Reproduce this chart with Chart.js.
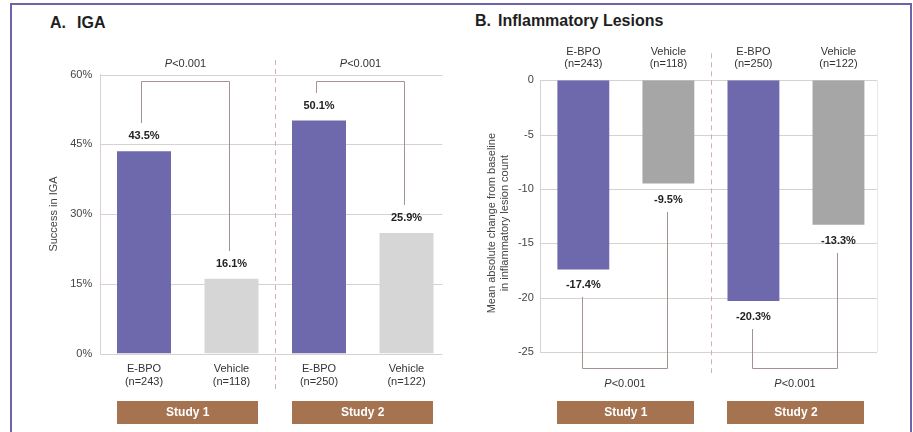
<!DOCTYPE html>
<html>
<head>
<meta charset="utf-8">
<script src="https://cdn.jsdelivr.net/npm/chart.js@4.4.1/dist/chart.umd.min.js"></script>
<style>
  html, body { margin: 0; padding: 0; background: #fff; }
  #page { position: relative; width: 913px; height: 432px; overflow: hidden;
          font-family: "Liberation Sans", Arial, sans-serif; }
  #frame { position: absolute; left: 10px; top: 3px; width: 898px; height: 470px;
           border: 2px solid #6b64ad; pointer-events: none; }
  .title { position: absolute; font-weight: bold; font-size: 16px; line-height: 16px;
           color: #1e1e1e; white-space: nowrap; }
  .title .tag { display: inline-block; }
  canvas { position: absolute; top: 0; }
</style>
</head>
<body>
<div id="page">
  <div class="title" style="left:50px;top:15px"><span class="tag" style="width:27px">A.</span>IGA</div>
  <div class="title" style="left:475px;top:13px"><span class="tag" style="width:23px">B.</span>Inflammatory Lesions</div>
  <canvas id="iga" width="460" height="432" style="left:0"></canvas>
  <canvas id="lesions" width="450" height="432" style="left:460px"></canvas>
  <div id="frame"></div>
</div>
<script>
// ---- data ----
const CATEGORIES = ['E-BPO', 'Vehicle', 'E-BPO', 'Vehicle'];
const IGA_N = ['(n=243)', '(n=118)', '(n=250)', '(n=122)'];
const IGA_SUCCESS = [43.5, 16.1, 50.1, 25.9];
const LESION_N = ['(n=243)', '(n=118)', '(n=250)', '(n=122)'];
const LESION_CHANGE = [-17.4, -9.5, -20.3, -13.3];
const STUDIES = ['Study 1', 'Study 2'];
const P_VALUES = ['<0.001', '<0.001'];
const IGA_TICKS = [0, 15, 30, 45, 60];
const LESION_TICKS = [0, -5, -10, -15, -20, -25];
const IGA_TITLE = ['Success in IGA'];
const LESION_TITLE = ['Mean absolute change from baseline', 'in inflammatory lesion count'];

// ---- styling ----
const FONT = '"Liberation Sans", Arial, sans-serif';
const PURPLE = '#6e68ad';
const GRID = '#dad1cf';
const BRACKET = '#a39390';
const SEPARATOR = '#cfb3ae';
const BROWN = '#a67350';
const TEXT = '#3c3c3c';

Chart.defaults.font.family = FONT;
Chart.defaults.color = TEXT;

const pct = v => v.toFixed(1) + '%';

// Draws grid, study separator, value labels, significance brackets,
// study bands and the rotated axis title for one panel.
const panelDecor = {
  id: 'panelDecor',
  beforeDatasetsDraw(chart, args, o) {
    const { ctx, chartArea: a, scales: { y } } = chart;
    const bars = chart.getDatasetMeta(0).data;
    ctx.save();
    ctx.lineWidth = 1;
    ctx.strokeStyle = GRID;
    y.ticks.forEach(t => {
      const py = Math.round(y.getPixelForValue(t.value)) + 0.5;
      ctx.beginPath();
      ctx.moveTo(a.left, py);
      ctx.lineTo(a.right - o.gridTrim, py);
      ctx.stroke();
    });
    if (o.frameRight) {
      ctx.strokeStyle = '#ebe6e5';
      const rx = Math.round(a.right - o.gridTrim) + 0.5;
      ctx.beginPath();
      ctx.moveTo(rx, a.top);
      ctx.lineTo(rx, a.bottom);
      ctx.stroke();
    }
    const sx = Math.round((bars[1].x + bars[2].x) / 2) + 0.5;
    ctx.strokeStyle = SEPARATOR;
    ctx.setLineDash([5, 4]);
    ctx.beginPath();
    ctx.moveTo(sx, a.top + o.sepTop);
    ctx.lineTo(sx, a.bottom + o.sepBottom);
    ctx.stroke();
    ctx.restore();
  },
  afterDatasetsDraw(chart, args, o) {
    const { ctx, chartArea: a } = chart;
    const bars = chart.getDatasetMeta(0).data;
    const values = chart.data.datasets[0].data;
    const labelY = i => bars[i].y + o.labelDy;

    ctx.save();
    // value labels
    ctx.font = 'bold 11px ' + FONT;
    ctx.fillStyle = '#222';
    ctx.textAlign = 'center';
    ctx.textBaseline = 'middle';
    bars.forEach((b, i) => ctx.fillText(pct(values[i]), b.x, labelY(i)));

    // significance brackets
    const lineY = Math.round(o.side === 'top' ? a.top + o.bracketGap : a.bottom + o.bracketGap) + 0.5;
    STUDIES.forEach((s, k) => {
      const i0 = 2 * k, i1 = 2 * k + 1;
      const x0 = Math.round(bars[i0].x + o.legDx) + 0.5;
      const x1 = Math.round(bars[i1].x + o.legDx) + 0.5;
      ctx.strokeStyle = BRACKET;
      ctx.lineWidth = 1;
      ctx.beginPath();
      ctx.moveTo(x0, Math.round(labelY(i0) + o.legGap));
      ctx.lineTo(x0, lineY);
      ctx.lineTo(x1, lineY);
      ctx.lineTo(x1, Math.round(labelY(i1) + o.legGap));
      ctx.stroke();

      // P value, italic P
      const py = lineY + o.pDy;
      const cx = (x0 + x1) / 2;
      ctx.font = 'italic 11px ' + FONT;
      const wP = ctx.measureText('P').width;
      ctx.font = '11px ' + FONT;
      const wR = ctx.measureText(P_VALUES[k]).width;
      const start = cx - (wP + wR) / 2;
      ctx.fillStyle = '#333';
      ctx.textAlign = 'left';
      ctx.font = 'italic 11px ' + FONT;
      ctx.fillText('P', start, py);
      ctx.font = '11px ' + FONT;
      ctx.fillText(P_VALUES[k], start + wP, py);

      // study band
      const left = bars[i0].x - bars[i0].width / 2;
      const right = bars[i1].x + bars[i1].width / 2;
      ctx.fillStyle = BROWN;
      ctx.fillRect(Math.round(left), o.bandTop, Math.round(right - left), o.bandHeight);
      ctx.fillStyle = '#fff';
      ctx.font = 'bold 12px ' + FONT;
      ctx.textAlign = 'center';
      ctx.fillText(s, (left + right) / 2, o.bandTop + o.bandHeight / 2 + 0.5);
    });

    // rotated axis title
    const lh = 13.2;
    ctx.translate(o.titleX, (a.top + a.bottom) / 2 + o.titleDy);
    ctx.rotate(-Math.PI / 2);
    ctx.font = '11px ' + FONT;
    ctx.fillStyle = '#444';
    ctx.textAlign = 'center';
    ctx.textBaseline = 'middle';
    const n = o.title.length;
    o.title.forEach((line, j) => ctx.fillText(line, 0, (j - (n - 1) / 2) * lh));
    ctx.restore();
  }
};

function baseOptions() {
  return {
    responsive: false,
    animation: false,
    devicePixelRatio: 1,
    events: [],
    plugins: { legend: { display: false }, tooltip: { enabled: false } }
  };
}

// ---- A. IGA ----
const igaOptions = baseOptions();
igaOptions.layout = { padding: { top: 74.5, right: 9.75, bottom: 18.5, left: 0 } };
igaOptions.plugins.panelDecor = {
  gridTrim: 8, sepTop: -14.5, sepBottom: 38.5,
  labelDy: -15, side: 'top', bracketGap: 6, legDx: -3, legGap: -13, pDy: -17.6,
  bandTop: 401, bandHeight: 23, title: IGA_TITLE, titleX: 54, titleDy: 0
};
igaOptions.scales = {
  x: {
    position: 'bottom',
    grid: { display: false, drawTicks: false },
    border: { display: false },
    ticks: { padding: 9, font: { size: 11, lineHeight: 1.15 }, color: '#333', maxRotation: 0, autoSkip: false },
    afterFit: s => { s.height = 60; }
  },
  y: {
    min: IGA_TICKS[0], max: IGA_TICKS[IGA_TICKS.length - 1],
    grid: { display: false, drawTicks: false },
    border: { display: true, color: GRID },
    ticks: { padding: 8, font: { size: 11 }, color: '#444', callback: v => v + '%' },
    afterBuildTicks: s => { s.ticks = IGA_TICKS.map(v => ({ value: v })); },
    afterFit: s => { s.width = 100.25; }
  }
};
new Chart(document.getElementById('iga'), {
  type: 'bar',
  data: {
    labels: CATEGORIES.map((c, i) => [c, IGA_N[i]]),
    datasets: [{
      data: IGA_SUCCESS,
      backgroundColor: [PURPLE, '#d6d6d6', PURPLE, '#d6d6d6'],
      barPercentage: 0.617,
      categoryPercentage: 1
    }]
  },
  options: igaOptions,
  plugins: [panelDecor]
});

// ---- B. Inflammatory Lesions ----
const lesionOptions = baseOptions();
lesionOptions.layout = { padding: { top: 30, right: 29, bottom: 80, left: 0 } };
lesionOptions.plugins.panelDecor = {
  gridTrim: 4, frameRight: true, sepTop: -27, sepBottom: 21,
  labelDy: 16, side: 'bottom', bracketGap: 15.7, legDx: -1.5, legGap: 12, pDy: 15.6,
  bandTop: 401, bandHeight: 23, title: LESION_TITLE, titleX: 38.4, titleDy: 7
};
lesionOptions.scales = {
  x: {
    position: 'top',
    grid: { display: false, drawTicks: false },
    border: { display: false },
    ticks: { padding: 11, font: { size: 11, lineHeight: 1.05 }, color: '#333', maxRotation: 0, autoSkip: false },
    afterFit: s => { s.height = 50.3; }
  },
  y: {
    min: LESION_TICKS[LESION_TICKS.length - 1], max: LESION_TICKS[0],
    grid: { display: false, drawTicks: false },
    border: { display: true, color: GRID },
    ticks: { padding: 7, font: { size: 11 }, color: '#444' },
    afterBuildTicks: s => { s.ticks = LESION_TICKS.slice().reverse().map(v => ({ value: v })); },
    afterFit: s => { s.width = 80.8; }
  }
};
new Chart(document.getElementById('lesions'), {
  type: 'bar',
  data: {
    labels: CATEGORIES.map((c, i) => [c, LESION_N[i]]),
    datasets: [{
      data: LESION_CHANGE,
      backgroundColor: [PURPLE, '#a6a6a6', PURPLE, '#a6a6a6'],
      barPercentage: 0.61,
      categoryPercentage: 1
    }]
  },
  options: lesionOptions,
  plugins: [panelDecor]
});
</script>
</body>
</html>
